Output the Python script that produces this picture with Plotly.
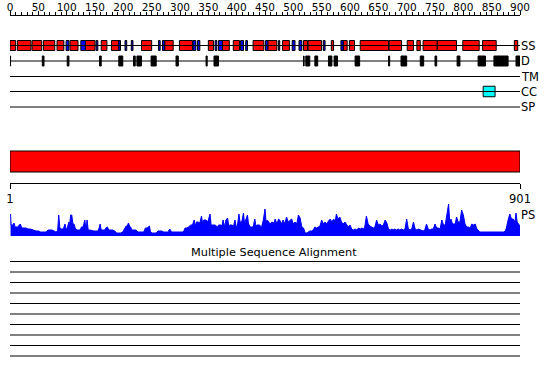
import plotly.graph_objects as go

# ---------------- data ----------------
seq_len = 901
row_labels = ["SS", "D", "TM", "CC", "SP"]

# secondary structure segments (residues): type H=helix(red), E=strand(blue)
ss_start = [0, 13, 39, 59, 83, 99, 106, 125, 133, 152, 161, 179, 192, 203, 214, 232, 262, 269, 273,
            299, 323, 331, 350, 362, 368, 375, 394, 407, 416, 429, 451, 455, 474, 481, 498, 510, 518,
            526, 553, 567, 584, 588, 599, 618, 669, 701, 718, 729, 754, 799, 834, 890]
ss_end = [10, 37, 56, 79, 95, 104, 120, 133, 150, 155, 171, 192, 195, 206, 217, 250, 265, 273, 288,
          322, 328, 335, 359, 365, 375, 387, 405, 412, 419, 448, 455, 471, 476, 493, 503, 515, 525,
          550, 556, 571, 588, 595, 608, 668, 691, 712, 724, 754, 788, 828, 858, 896]
ss_type = ["H", "H", "H", "H", "H", "E", "H", "E", "H", "E", "H", "H", "E", "E", "E", "H", "E", "E", "H",
           "H", "E", "E", "H", "E", "E", "H", "H", "E", "E", "H", "E", "H", "E", "H", "E", "E", "H",
           "H", "E", "H", "E", "H", "H", "H", "H", "H", "H", "H", "H", "H", "H", "H"]

# disorder segments
d_start = [0, 57, 101, 158, 192, 218, 224, 249, 293, 346, 360, 518, 522, 538, 562, 572, 609, 668, 690,
           724, 750, 789, 826, 854, 893]
d_end = [1, 60, 104, 161, 199, 221, 232, 258, 297, 348, 368, 519, 529, 543, 568, 578, 617, 670, 700,
         730, 753, 794, 839, 879, 901]

# coiled coil
cc_start = [835]
cc_end = [856]

# domain bar
dom_start = [1]
dom_end = [901]

# PS profile
ps_pos = [1, 2, 5, 7, 9, 13, 15, 18, 21, 25,
          28, 32, 36, 41, 46, 51, 54, 59, 64, 67,
          71, 74, 78, 81, 84, 85, 86, 88, 91, 94,
          97, 99, 101, 104, 105, 107, 109, 111, 113, 115,
          118, 121, 124, 126, 129, 132, 134, 135, 136, 138,
          141, 145, 148, 152, 155, 158, 159, 161, 164, 167,
          169, 172, 174, 178, 181, 185, 188, 192, 195, 199,
          202, 205, 207, 209, 211, 213, 215, 219, 222, 226,
          229, 233, 236, 239, 242, 246, 248, 251, 254, 258,
          261, 265, 268, 271, 274, 278, 280, 282, 285, 288,
          292, 295, 299, 302, 306, 309, 312, 315, 319, 322,
          325, 327, 329, 332, 335, 338, 340, 342, 346, 349,
          353, 355, 359, 362, 366, 368, 372, 374, 376, 379,
          381, 384, 386, 388, 392, 394, 397, 399, 401, 404,
          406, 409, 412, 414, 416, 419, 421, 424, 427, 429,
          432, 434, 436, 440, 444, 447, 450, 452, 454, 456,
          459, 462, 466,
          468, 471, 474, 476, 479, 482, 485, 488, 491, 494,
          497, 500, 503, 506, 509, 512, 515, 518, 521, 524,
          526, 529, 532, 535, 538, 541, 544, 547, 550, 553,
          556, 559, 562, 565, 568, 571, 574, 576, 579, 582,
          585, 588, 591, 594, 597, 600, 603, 606, 609, 612,
          615, 618, 621, 624, 626, 629, 632, 635, 638, 641,
          644, 647, 650, 653, 656, 659, 662, 665, 668, 671,
          674, 676, 679, 682, 685, 688, 691, 694, 697, 700,
          703, 706, 709, 712, 715, 718, 721, 724, 726, 729,
          732, 735, 738, 741, 744, 747, 750, 753, 756, 759,
          762, 765, 768, 771, 774, 776, 778, 781, 784, 786,
          788, 791, 794, 797, 800, 803, 806, 809, 812, 815,
          818, 821, 824, 826, 829, 835, 841, 847, 853, 859,
          865, 871, 874, 876, 879, 882, 885, 888, 891, 893,
          895, 897, 900]
ps_val = [22, 11, 11, 13, 9, 9, 10, 12, 8, 8,
          8, 7, 7, 6, 5, 5, 4, 4, 4, 6,
          6, 6, 5, 4, 5, 14, 21, 8, 7, 7,
          12, 7, 8, 14, 10, 21, 21, 12, 12, 8,
          6, 6, 6, 9, 9, 16, 8, 9, 16, 6,
          6, 5, 5, 5, 5, 9, 12, 6, 6, 6,
          8, 9, 6, 6, 6, 5, 3, 3, 3, 4,
          7, 10, 10, 13, 10, 9, 6, 6, 6, 4,
          4, 4, 4, 8, 8, 10, 4, 3, 3, 3,
          5, 5, 5, 4, 4, 4, 5, 7, 4, 4,
          4, 4, 4, 4, 4, 8, 8, 9, 11, 11,
          16, 10, 14, 14, 13, 20, 12, 16, 16, 14,
          22, 11, 11, 11, 9, 11, 11, 10, 16, 9,
          16, 18, 10, 11, 11, 9, 16, 10, 9, 22,
          14, 14, 23, 12, 16, 21, 12, 9, 9, 9,
          17, 10, 11, 11, 9, 16, 27, 14, 16, 14,
          12, 14, 13,
          17, 12, 17, 16, 12, 16, 12, 19, 14, 16,
          17, 12, 14, 12, 21, 18, 9, 8, 3, 3,
          4, 5, 5, 6, 9, 8, 9, 10, 16, 12,
          14, 12, 15, 17, 14, 17, 15, 22, 17, 19,
          14, 12, 14, 11, 9, 11, 7, 6, 7, 6,
          8, 7, 8, 7, 9, 20, 12, 10, 9, 8,
          9, 16, 11, 12, 10, 11, 16, 13, 7, 6,
          7, 6, 7, 6, 7, 6, 7, 6, 7, 17,
          7, 6, 7, 14, 7, 6, 7, 6, 6, 5,
          6, 12, 7, 6, 7, 7, 12, 8, 8, 7,
          16, 11, 11, 20, 32, 14, 17, 12, 12, 13,
          19, 14, 14, 26, 21, 12, 9, 9, 8, 12,
          11, 12, 7, 6, 4, 4, 4, 4, 4, 4,
          4, 4, 5, 8, 16, 22, 17, 17, 14, 23,
          14, 12, 10]

msa_title = "Multiple Sequence Alignment"
msa_rows = 10
ruler_ticks = [1, 901]

# ---------------- layout constants (pixel-like y units) ----------------
W, H = 550, 380
row_y = [45.5, 61, 76.5, 91.5, 107]
box_h = 10
FONT = "DejaVu Sans"
RED, BLUE, CYAN = "#FF0000", "#0000FF", "#00FFFF"

fig = go.Figure()


def hline(y, x0=0, x1=900):
    fig.add_trace(go.Scatter(x=[x0, x1], y=[y, y], mode="lines",
                             line=dict(color="black", width=1), showlegend=False,
                             hoverinfo="skip", cliponaxis=False))


def boxes(starts, ends, y, color, h=box_h):
    if not starts:
        return
    fig.add_trace(go.Bar(orientation="h", base=starts,
                         x=[e - s for s, e in zip(starts, ends)],
                         y=[y] * len(starts), width=h,
                         marker=dict(color=color, line=dict(color="black", width=1)),
                         showlegend=False, hoverinfo="skip"))


# feature rows
for ry in row_y:
    hline(ry)

hs = [s for s, t in zip(ss_start, ss_type) if t == "H"]
he = [e for e, t in zip(ss_end, ss_type) if t == "H"]
es = [s for s, t in zip(ss_start, ss_type) if t == "E"]
ee = [e for e, t in zip(ss_end, ss_type) if t == "E"]
boxes(hs, he, row_y[0], RED)
boxes(es, ee, row_y[0], BLUE)
boxes(d_start, d_end, row_y[1], "black")
boxes(cc_start, cc_end, row_y[3], CYAN, h=10.5)

# domain bar
boxes([s - 1 for s in dom_start], [e - 1 for e in dom_end], 161.5, RED, h=21)

# MSA lines
for i in range(msa_rows):
    hline(261.5 + i * 10.5)

# PS profile on its own y axis
fig.add_trace(go.Scatter(x=ps_pos, y=ps_val, mode="lines", fill="tozeroy",
                         line=dict(color=BLUE, width=1), fillcolor=BLUE,
                         xaxis="x", yaxis="y2", showlegend=False, hoverinfo="skip"))

# dummy traces so ruler axes render
fig.add_trace(go.Scatter(x=[0], y=[-100], mode="markers", marker=dict(opacity=0),
                         xaxis="x2", yaxis="y", showlegend=False, hoverinfo="skip"))
fig.add_trace(go.Scatter(x=[1], y=[-100], mode="markers", marker=dict(opacity=0),
                         xaxis="x3", yaxis="y", showlegend=False, hoverinfo="skip"))

ann = []
for lab, ry in zip(row_labels, row_y):
    ann.append(dict(x=900, y=ry, xref="x", yref="y", text=lab, showarrow=False,
                    xanchor="left", yanchor="middle", xshift=-1,
                    font=dict(family=FONT, size=11.5, color="black")))
ann.append(dict(x=900, y=215, xref="x", yref="y", text="PS", showarrow=False,
                xanchor="left", yanchor="middle", xshift=-1,
                font=dict(family=FONT, size=11.5, color="black")))
ann.append(dict(x=466, y=252, xref="x", yref="y", text=msa_title, showarrow=False,
                xanchor="center", yanchor="middle",
                font=dict(family=FONT, size=11.3, color="black")))

fig.update_layout(
    width=W, height=H,
    margin=dict(l=10, r=30, t=0, b=0, pad=0, autoexpand=False),
    paper_bgcolor="white", plot_bgcolor="white",
    barmode="overlay", hovermode=False, showlegend=False,
    xaxis=dict(range=[0, 900], visible=False, fixedrange=True, automargin=False),
    yaxis=dict(range=[H, 0], visible=False, fixedrange=True, domain=[0, 1], automargin=False),
    yaxis2=dict(range=[0, 32], visible=False, fixedrange=True, automargin=False,
                domain=[1 - 236 / H, 1 - 204 / H], anchor="x"),
    xaxis2=dict(range=[0, 900], overlaying="x", anchor="free", position=1 - 15 / H,
                side="top", showline=True, linecolor="black", linewidth=1,
                ticks="outside", ticklen=4, tickwidth=1, tickcolor="black",
                dtick=50, tick0=0, showgrid=False, zeroline=False, automargin=False,
                ticklabelstandoff=-4,
                tickfont=dict(family=FONT, size=10.5, color="black"),
                minor=dict(dtick=10, ticks="outside", ticklen=3, tickcolor="black",
                           tickwidth=1, showgrid=False),
                fixedrange=True),
    xaxis3=dict(range=[1, 901], overlaying="x", anchor="free", position=1 - 183 / H,
                side="bottom", showline=True, linecolor="black", linewidth=1,
                ticks="outside", ticklen=5, tickwidth=1, tickcolor="black",
                tickvals=ruler_ticks, ticktext=[str(t) for t in ruler_ticks],
                showgrid=False, zeroline=False, automargin=False,
                tickfont=dict(family=FONT, size=11.5, color="black"),
                fixedrange=True),
    annotations=ann,
)

fig.write_html("out.html", config={"displayModeBar": False, "staticPlot": True},
               post_script="document.body.style.margin='0';")
